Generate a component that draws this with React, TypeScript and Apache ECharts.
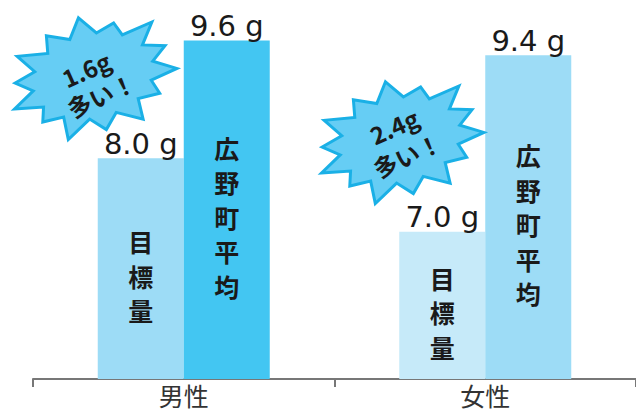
import React, { useEffect, useRef } from "react";
import * as echarts from "echarts";

const categories = ["男性", "女性"];
const targetValues = [8.0, 7.0];
const averageValues = [9.6, 9.4];
const targetName = "目標量";
const averageName = "広野町平均";
const targetColors = ["#9ddcf6", "#c6eaf9"];
const averageColors = ["#43c6f2", "#9ddcf6"];
const yMin = 5;
const yMax = 10;

// decorative starburst outlines (relative radius factors for spikes)
const spikeFactors = [1, 0.86, 1.02, 0.9, 0.97, 0.88, 1.0, 0.92, 1.03, 0.87, 0.98, 0.9, 1.0, 0.93];

function starPoints(cx: number, cy: number, rx: number, ry: number, rotDeg: number) {
  const pts: number[][] = [];
  const n = spikeFactors.length;
  const rot = (rotDeg * Math.PI) / 180;
  for (let i = 0; i < n * 2; i++) {
    const a = (i / (n * 2)) * Math.PI * 2 - Math.PI / 2;
    const f = i % 2 === 0 ? spikeFactors[i / 2] : 0.7;
    const x0 = Math.cos(a) * rx * f;
    const y0 = Math.sin(a) * ry * f;
    const x = x0 * Math.cos(rot) - y0 * Math.sin(rot);
    const y = x0 * Math.sin(rot) + y0 * Math.cos(rot);
    pts.push([cx + x, cy + y]);
  }
  return pts;
}

export default function App() {
  const ref = useRef<HTMLDivElement>(null);
  useEffect(() => {
    if (!ref.current) return;
    const chart = echarts.init(ref.current, undefined, { renderer: "svg" });
    const font = "'Noto Sans CJK JP', 'Noto Sans', sans-serif";
    const numFont = "'DejaVu Sans', sans-serif";
    const vertical = (s: string) => s.split("").join("\n");
    const diffs = categories.map((_, i) => (averageValues[i] - targetValues[i]).toFixed(1) + "g");
    const stars = [
      { cx: 93, cy: 76, tx1: [86, 69], tx2: [101, 95] },
      { cx: 400, cy: 140, tx1: [394, 126], tx2: [407, 155] },
    ];
    const rot = (24 * Math.PI) / 180;
    const graphics: any[] = [];
    stars.forEach((s, i) => {
      graphics.push({
        type: "polygon",
        z: 10,
        shape: { points: starPoints(s.cx, s.cy, 88, 60, -14) },
        style: { fill: "#66cdf4", stroke: "#1ab0e6", lineWidth: 3, lineJoin: "miter" },
      });
      graphics.push({
        type: "text",
        z: 11,
        x: s.tx1[0],
        y: s.tx1[1],
        rotation: rot,
        style: {
          text: diffs[i],
          fontSize: 24,
          fontWeight: "bold",
          fontFamily: font,
          fill: "#1a1a1a",
          align: "center",
          verticalAlign: "middle",
        },
      });
      graphics.push({
        type: "text",
        z: 11,
        x: s.tx2[0],
        y: s.tx2[1],
        rotation: rot,
        style: {
          text: "多い！",
          fontSize: 24,
          fontWeight: "bold",
          fontFamily: font,
          fill: "#1a1a1a",
          align: "center",
          verticalAlign: "middle",
        },
      });
    });

    const insideLabel = {
      show: true,
      position: "inside",
      formatter: (p: any) => vertical(p.seriesName),
      fontSize: 25,
      fontWeight: "bold",
      lineHeight: 34.5,
      color: "#1a1a1a",
      fontFamily: font,
      offset: [0, 7],
    };
    const topLabel = {
      show: true,
      position: "top",
      distance: 0,
      formatter: (p: any) => Number(p.value).toFixed(1) + " g",
      fontSize: 29,
      color: "#1a1a1a",
      fontFamily: numFont,
    };

    chart.setOption({
      animation: false,
      grid: { left: 33, right: -1, top: 11, bottom: 36 },
      xAxis: [
        {
          type: "category",
          data: categories,
          axisLine: { lineStyle: { color: "#777", width: 2 } },
          axisTick: { show: true, length: 8, lineStyle: { color: "#777", width: 2 } },
          axisLabel: { fontSize: 25, lineHeight: 25, color: "#333", margin: 3, fontFamily: font },
        },
        { type: "category", data: categories, show: false },
      ],
      yAxis: { type: "value", min: yMin, max: yMax, show: false },
      graphic: graphics,
      series: [
        {
          type: "bar",
          name: targetName,
          barWidth: 86,
          barGap: "0%",
          data: targetValues.map((v, i) => ({ value: v, itemStyle: { color: targetColors[i] } })),
          label: insideLabel,
        },
        {
          type: "bar",
          name: averageName,
          barWidth: 86,
          barGap: "0%",
          data: averageValues.map((v, i) => ({ value: v, itemStyle: { color: averageColors[i] } })),
          label: insideLabel,
        },
        {
          type: "bar",
          name: targetName + "値",
          xAxisIndex: 1,
          barWidth: 86,
          barGap: "0%",
          itemStyle: { color: "rgba(0,0,0,0)" },
          data: targetValues,
          label: topLabel,
          z: 3,
        },
        {
          type: "bar",
          name: averageName + "値",
          xAxisIndex: 1,
          barWidth: 86,
          barGap: "0%",
          itemStyle: { color: "rgba(0,0,0,0)" },
          data: averageValues,
          label: topLabel,
          z: 3,
        },
      ],
    });
    return () => chart.dispose();
  }, []);
  return (
    <div
      ref={ref}
      style={{ position: "fixed", left: 0, top: 0, width: 636, height: 415, background: "#fff" }}
    />
  );
}
